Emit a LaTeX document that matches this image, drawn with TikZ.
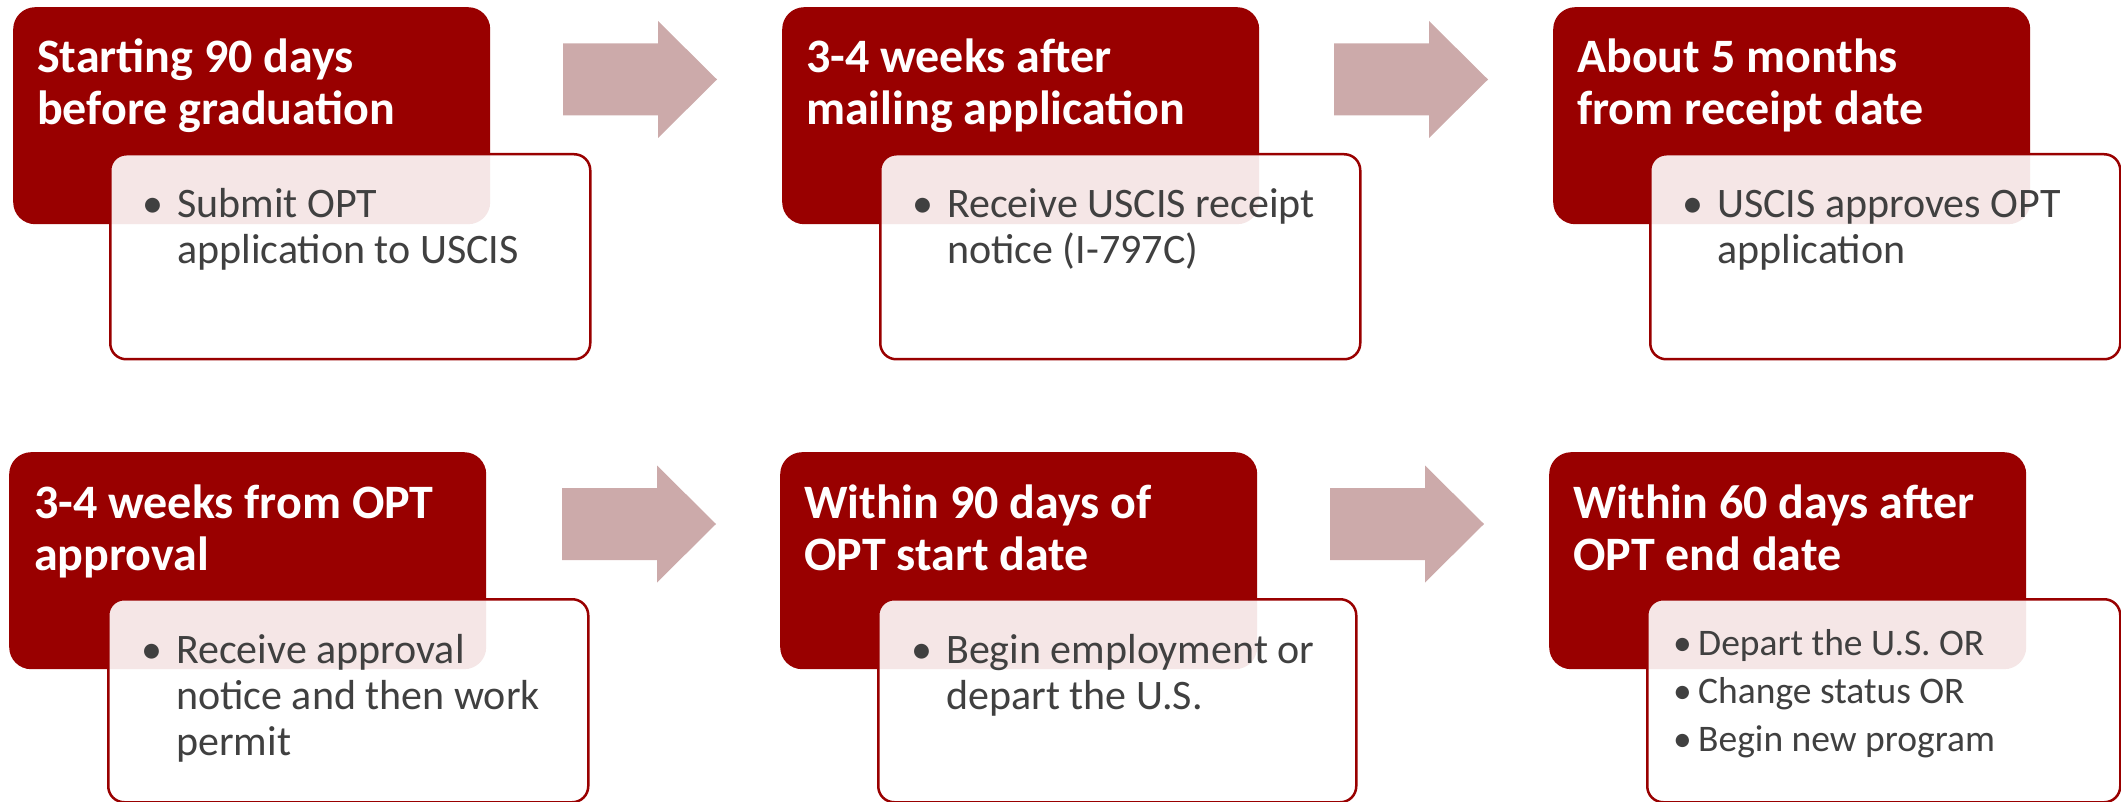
\documentclass[tikz,border=0pt]{standalone}
\usepackage{fontspec}
\setmainfont{Carlito}
\definecolor{dred}{HTML}{990000}
\definecolor{arrowc}{HTML}{CCAAAA}
\definecolor{bodyc}{HTML}{404040}
\newcommand{\flowarrowat}[2]{%
  \fill[flowarrow] (#1,#2-36) -- (#1+95,#2-36) -- (#1+95,#2-58.5) -- (#1+154,#2)
    -- (#1+95,#2+58.5) -- (#1+95,#2+36) -- (#1,#2+36) -- cycle;}
\begin{document}
\begin{tikzpicture}[x=1pt,y=-1pt,
  darkbox/.style={fill=dred, draw=none, rounded corners=22pt, anchor=north west,
    minimum width=477pt, minimum height=217pt, inner sep=0pt},
  lightbox/.style={draw=dred, line width=2.5pt, fill=white, fill opacity=0.9,
    rounded corners=16pt, anchor=north west, minimum width=480pt, inner sep=0pt},
  titletext/.style={anchor=base west, inner sep=0pt, text=white,
    font=\fontsize{48}{52}\selectfont\bfseries, align=left},
  bodytext/.style={anchor=base west, inner sep=0pt, text=bodyc,
    font=\fontsize{42}{46}\selectfont},
  flowarrow/.style={fill=arrowc}]
\useasboundingbox (0,0) rectangle (2121,802);
% row 1
\node[darkbox] (d1) at (13,7) {};
\node[darkbox] (d2) at (782,7) {};
\node[darkbox] (d3) at (1553,7) {};
\node[lightbox, minimum height=205pt] (l1) at (109,153) {};
\node[lightbox, minimum height=205pt] (l2) at (879,153) {};
\node[lightbox, minimum height=205pt, minimum width=470pt] (l3) at (1649,153) {};
\flowarrowat{563}{79.5}
\flowarrowat{1334}{79.5}
\node[titletext] (t1) at (37,125) {Starting 90 days\\before graduation};
\node[titletext] (t2) at (806,125) {3-4 weeks after\\mailing application};
\node[titletext] (t3) at (1577,125) {About 5 months\\from receipt date};
\node[bodytext] (b1) at (142,218) {\begin{tabular}[t]{@{}p{35pt}@{}l@{}}•&Submit OPT\\&application to USCIS\end{tabular}};
\node[bodytext] (b2) at (912,218) {\begin{tabular}[t]{@{}p{35pt}@{}l@{}}•&Receive USCIS receipt\\&notice (I-797C)\end{tabular}};
\node[bodytext] (b3) at (1682,218) {\begin{tabular}[t]{@{}p{35pt}@{}l@{}}•&USCIS approves OPT\\&application\end{tabular}};
% row 2
\node[darkbox] (d4) at (9,452) {};
\node[darkbox] (d5) at (780,452) {};
\node[darkbox] (d6) at (1549,452) {};
\node[lightbox, minimum height=203pt] (l4) at (107,598) {};
\node[lightbox, minimum height=203pt, minimum width=478pt] (l5) at (877,598) {};
\node[lightbox, minimum height=203pt, minimum width=473pt] (l6) at (1646,598) {};
\flowarrowat{562}{524}
\flowarrowat{1330}{524}
\node[titletext] (t4) at (34,570) {3-4 weeks from OPT\\approval};
\node[titletext] (t5) at (804,570) {Within 90 days of\\OPT start date};
\node[titletext] (t6) at (1573,570) {Within 60 days after\\OPT end date};
\node[bodytext] (b4) at (141,663) {\begin{tabular}[t]{@{}p{35pt}@{}l@{}}•&Receive approval\\&notice and then work\\&permit\end{tabular}};
\node[bodytext] (b5) at (911,663) {\begin{tabular}[t]{@{}p{35pt}@{}l@{}}•&Begin employment or\\&depart the U.S.\end{tabular}};
\node[bodytext, font=\fontsize{37.5}{48}\selectfont] (b6) at (1673,655) {\begin{tabular}[t]{@{}p{25pt}@{}l@{}}•&Depart the U.S. OR\\•&Change status OR\\•&Begin new program\end{tabular}};
\end{tikzpicture}
\end{document}
